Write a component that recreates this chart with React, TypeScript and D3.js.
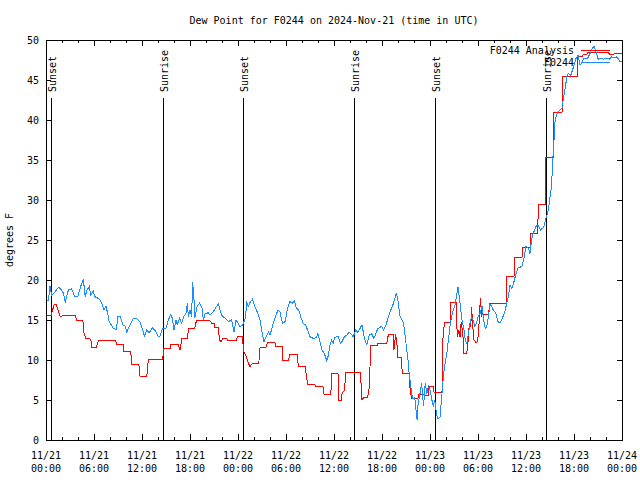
import React from 'react';
import * as d3 from 'd3';

const chartTitle = 'Dew Point for F0244 on 2024-Nov-21 (time in UTC)';
const yAxisLabel = 'degrees F';
const seriesNames = ['F0244 Analysis', 'F0244'];
const seriesColors = ['#ff0000', '#1a8cff'];

const xTickDates = ['11/21', '11/21', '11/21', '11/21', '11/22', '11/22', '11/22', '11/22', '11/23', '11/23', '11/23', '11/23', '11/24'];
const xTickTimes = ['00:00', '06:00', '12:00', '18:00', '00:00', '06:00', '12:00', '18:00', '00:00', '06:00', '12:00', '18:00', '00:00'];
const yTicks = [0, 5, 10, 15, 20, 25, 30, 35, 40, 45, 50];

const sunHours = [0.66, 14.66, 24.66, 38.54, 48.64, 62.54];
const sunLabels = ['Sunset', 'Sunrise', 'Sunset', 'Sunrise', 'Sunset', 'Sunrise'];

// [hours since 11/21 00:00 UTC, dew point F]
const analysisSeries: [number, number][] = [
  [0, 15.6], [0.65, 15.6], [1.0, 16.9], [1.3, 16.9], [1.75, 15.5], [2.0, 15.5], [2.1, 15.6], [3.7, 15.6], [3.8, 15.0], [4.6, 15.0],
  [4.75, 13.4], [5.0, 12.7], [5.6, 12.6], [5.7, 11.6], [6.3, 11.6], [6.6, 12.5], [8.7, 12.5], [8.8, 12.0], [9.7, 12.0], [9.75, 11.1],
  [10.6, 11.1], [10.7, 9.5], [11.6, 9.5], [11.75, 8.0], [12.6, 8.0], [12.8, 10.1], [14.6, 10.1], [14.7, 11.4], [15.5, 11.4], [15.6, 12.0],
  [16.5, 12.0], [16.75, 11.3], [17.0, 12.7], [17.7, 12.7], [17.8, 14.0], [18.6, 14.0], [18.8, 14.9], [20.5, 14.9], [20.7, 14.6], [21.0, 14.6],
  [21.1, 14.1], [21.5, 14.1], [21.7, 12.5], [21.9, 12.3], [22.1, 12.7], [22.6, 12.7], [22.75, 12.4], [23.8, 12.4], [23.9, 12.9], [24.6, 12.9],
  [24.65, 11.2], [25.0, 10.5], [25.3, 9.6], [25.5, 9.2], [25.8, 9.6], [26.6, 9.6], [26.75, 11.5], [27.5, 11.6], [27.7, 12.2], [28.6, 12.2],
  [28.75, 11.7], [29.5, 11.7], [29.6, 10.0], [30.3, 10.0], [30.5, 10.7], [31.4, 10.7], [31.55, 9.2], [32.4, 9.2], [32.7, 6.9], [33.6, 6.9],
  [33.7, 6.75], [34.6, 6.75], [34.75, 5.75], [35.6, 5.75], [35.75, 8.3], [36.5, 8.3], [36.6, 5.0], [36.9, 5.0], [37.0, 5.8], [37.3, 6.2],
  [37.5, 8.5], [38.4, 8.5], [38.5, 8.4], [39.3, 8.4], [39.5, 5.0], [39.7, 5.3], [40.2, 5.3], [40.4, 6.5], [40.6, 11.8], [41.4, 11.8],
  [41.5, 12.1], [42.6, 12.1], [42.8, 13.2], [43.4, 13.2], [43.5, 11.3], [43.7, 13.2], [43.9, 11.7], [44.0, 10.3], [44.4, 10.3], [44.55, 8.3],
  [45.4, 8.3], [45.5, 6.5], [45.7, 5.2], [46.5, 5.2], [46.6, 5.75], [47.2, 5.75], [47.25, 5.6], [47.8, 5.6], [47.9, 6.7], [48.4, 6.7],
  [48.5, 6.0], [49.5, 6.0], [49.6, 12.5], [49.8, 14.7], [50.5, 14.7], [50.6, 17.2], [51.3, 17.2], [51.4, 12.9], [51.6, 13.7], [51.75, 12.9],
  [51.9, 14.8], [52.1, 13.3], [52.25, 10.8], [52.5, 10.8], [52.7, 11.3], [52.85, 14.0], [53.1, 14.2], [53.2, 16.6], [53.35, 14.2], [53.5, 12.5],
  [53.75, 12.2], [53.95, 12.3], [54.1, 14.0], [54.3, 17.8], [54.45, 15.5], [54.6, 15.75], [55.3, 15.75], [55.5, 17.1], [57.5, 17.1], [57.6, 20.5],
  [58.5, 20.5], [58.6, 22.8], [59.5, 22.8], [59.6, 24.1], [60.5, 24.1], [60.6, 25.8], [61.4, 25.8], [61.6, 29.4], [62.4, 29.4], [62.5, 35.3],
  [63.4, 35.3], [63.5, 41.0], [64.5, 41.0], [64.6, 45.5], [66.4, 45.5], [66.5, 47.9], [67.0, 47.9], [67.2, 48.25], [67.6, 48.25], [67.8, 48.5],
  [70.3, 48.5], [70.4, 48.25], [71.0, 48.25], [71.2, 48.3], [72, 48.3],
];

const observedSeries: [number, number][] = [
  [0, 17.5], [0.3, 17.5], [0.5, 19.2], [0.7, 18.1], [1.1, 18.5], [1.55, 19.1], [1.95, 18.75], [2.2, 18.3], [2.4, 17.2], [2.8, 18.75],
  [3.2, 18.9], [3.6, 17.9], [4.0, 18.0], [4.3, 19.1], [4.67, 20.1], [4.9, 17.9], [5.1, 18.7], [5.4, 19.2], [5.6, 18.1], [5.9, 18.7],
  [6.1, 17.9], [6.4, 17.8], [6.75, 17.5], [6.95, 17.1], [7.25, 16.25], [7.5, 16.7], [7.7, 15.9], [7.9, 14.8], [8.4, 14.0], [8.8, 13.8],
  [9.0, 15.5], [9.3, 15.4], [9.6, 14.4], [9.9, 14.25], [10.1, 13.5], [10.5, 14.4], [10.9, 15.2], [11.3, 15.2], [11.75, 14.8], [12.1, 13.75],
  [12.3, 13.0], [12.6, 13.75], [12.9, 13.4], [13.3, 14.0], [13.6, 13.75], [14.0, 13.0], [14.25, 13.0], [14.6, 14.0], [15.0, 14.0], [15.3, 15.0],
  [15.6, 15.7], [15.8, 15.2], [16.0, 13.75], [16.25, 15.0], [16.4, 14.4], [16.7, 15.2], [16.95, 14.6], [17.2, 15.4], [17.5, 15.8], [17.67, 17.1],
  [17.8, 15.4], [18.0, 16.25], [18.2, 15.4], [18.33, 19.7], [18.5, 17.5], [18.6, 15.2], [18.9, 16.7], [19.2, 17.1], [19.5, 16.5], [19.67, 15.0],
  [19.9, 15.8], [20.3, 15.9], [20.5, 15.6], [20.9, 16.0], [21.25, 16.6], [21.55, 17.0], [21.75, 16.25], [21.95, 15.6], [22.4, 15.2], [22.8, 14.8],
  [23.2, 15.0], [23.5, 13.5], [23.75, 15.0], [24.0, 14.6], [24.25, 14.2], [24.6, 14.4], [24.9, 15.2], [25.1, 17.1], [25.3, 16.7], [25.5, 17.2],
  [25.8, 17.6], [26.1, 16.7], [26.4, 16.0], [26.75, 15.0], [26.95, 13.75], [27.25, 12.3], [27.5, 12.9], [27.8, 13.5], [28.0, 13.1], [28.3, 14.2],
  [28.6, 15.2], [29.0, 16.25], [29.25, 16.0], [29.55, 14.6], [29.9, 14.8], [30.2, 16.5], [30.5, 17.3], [30.8, 17.1], [31.05, 17.4], [31.3, 16.5],
  [31.6, 16.25], [31.9, 15.2], [32.2, 14.5], [32.45, 14.4], [32.7, 13.75], [33.0, 12.9], [33.4, 12.7], [33.8, 12.8], [34.0, 13.3], [34.25, 12.3],
  [34.5, 11.25], [34.8, 10.8], [35.1, 9.9], [35.3, 10.6], [35.5, 11.9], [35.7, 12.5], [35.9, 12.1], [36.1, 12.8], [36.5, 13.0], [36.8, 12.1],
  [37.0, 12.3], [37.3, 12.9], [37.6, 13.1], [37.9, 13.5], [38.1, 13.3], [38.4, 12.9], [38.7, 13.75], [38.95, 13.5], [39.25, 13.95], [39.5, 14.4],
  [39.8, 12.7], [40.1, 11.9], [40.4, 13.1], [40.7, 13.3], [41.0, 12.7], [41.3, 13.5], [41.5, 13.95], [41.95, 14.2], [42.2, 13.75], [42.5, 14.4],
  [42.8, 15.4], [43.1, 16.25], [43.4, 17.0], [43.8, 18.4], [44.0, 17.4], [44.25, 15.5], [44.7, 14.6], [44.9, 12.9], [45.1, 11.25], [45.3, 9.6],
  [45.4, 8.2], [45.6, 6.7], [45.8, 5.2], [46.1, 5.3], [46.3, 3.3], [46.4, 2.5], [46.5, 4.4], [46.75, 5.8], [46.95, 7.1], [47.2, 4.2],
  [47.4, 7.1], [47.6, 5.8], [47.8, 6.7], [48.0, 6.25], [48.2, 5.2], [48.4, 4.2], [48.6, 5.0], [48.8, 3.3], [49.0, 2.6], [49.25, 2.9],
  [49.5, 5.8], [49.7, 8.3], [49.9, 9.6], [50.1, 10.8], [50.3, 12.5], [50.5, 14.2], [50.7, 15.4], [50.9, 16.25], [51.1, 16.7], [51.3, 17.9],
  [51.5, 19.1], [51.6, 18.3], [51.8, 16.7], [52.0, 15.0], [52.25, 13.75], [52.4, 12.5], [52.6, 12.1], [52.8, 13.3], [53.0, 14.6], [53.2, 15.4],
  [53.4, 15.0], [53.6, 14.2], [53.8, 14.6], [54.0, 15.4], [54.25, 15.8], [54.5, 16.7], [54.7, 15.0], [54.9, 13.95], [55.1, 14.2], [55.3, 15.4],
  [55.5, 17.0], [55.7, 16.7], [55.9, 16.25], [56.25, 15.8], [56.5, 14.8], [56.75, 14.6], [56.95, 15.0], [57.2, 15.6], [57.4, 16.25], [57.6, 17.1],
  [57.8, 17.9], [58.0, 19.4], [58.2, 18.96], [58.4, 19.4], [58.75, 20.8], [59.0, 21.5], [59.5, 21.7], [59.75, 22.7], [60.0, 24.2], [60.3, 23.95],
  [60.5, 23.3], [60.7, 25.1], [60.9, 25.8], [61.25, 26.7], [61.5, 26.9], [61.8, 26.25], [62.1, 26.5], [62.25, 26.7], [62.5, 27.7], [62.8, 28.75],
  [63.0, 30.4], [63.2, 31.7], [63.3, 34.2], [63.5, 37.5], [63.6, 39.6], [63.8, 40.6], [64.0, 41.0], [64.5, 41.5], [64.7, 42.9], [64.9, 43.95],
  [65.1, 45.4], [65.3, 45.8], [65.6, 45.6], [65.9, 46.5], [66.25, 47.7], [66.5, 48.1], [66.75, 46.9], [66.95, 47.1], [67.25, 47.7], [67.7, 47.7],
  [68.0, 48.3], [68.3, 48.96], [68.5, 49.2], [68.8, 48.4], [69.0, 47.6], [69.25, 47.7], [69.7, 47.6], [70.1, 47.7], [70.4, 47.6], [70.7, 47.9],
  [71.1, 47.8], [71.3, 47.9], [71.5, 47.7], [71.75, 47.3], [72, 47.3],
];

const W = 640;
const H = 480;
const L = 46;
const R = 622;
const T = 40;
const B = 440;
const FONT = '"DejaVu Sans Mono", "Liberation Mono", monospace';

export default function App() {
  const x = d3.scaleLinear().domain([0, 72]).range([L, R]);
  const y = d3.scaleLinear().domain([0, 50]).range([B, T]);
  const line = d3
    .line<[number, number]>()
    .x((d) => x(d[0]))
    .y((d) => y(d[1]));

  const majorX = d3.range(0, 73, 6);
  const minorX = d3.range(0, 73, 2).filter((h) => h % 6 !== 0);
  const majorLen = 6;
  const minorLen = 3;
  const yTickLen = 5;

  return (
    <svg
      width={W}
      height={H}
      viewBox={`0 0 ${W} ${H}`}
      style={{ position: 'absolute', left: 0, top: 0, background: '#fff', display: 'block' }}
      fontFamily={FONT}
      fontSize={10}
    >
      <rect x={0} y={0} width={W} height={H} fill="#fff" />
      <text x={(L + R) / 2} y={23.5} textAnchor="middle" fill="#000">
        {chartTitle}
      </text>
      <text transform={`translate(13,${(T + B) / 2}) rotate(-90)`} textAnchor="middle" fill="#000">
        {yAxisLabel}
      </text>

      <g shapeRendering="crispEdges" stroke="#000" strokeWidth={1}>
        {yTicks.map((v) => (
          <g key={'yt' + v}>
            <line x1={L} x2={L + yTickLen} y1={y(v)} y2={y(v)} />
            <line x1={R} x2={R - yTickLen} y1={y(v)} y2={y(v)} />
          </g>
        ))}
        {majorX.map((h) => (
          <g key={'xm' + h}>
            <line x1={x(h)} x2={x(h)} y1={B} y2={B - majorLen} />
            <line x1={x(h)} x2={x(h)} y1={T} y2={T + majorLen} />
          </g>
        ))}
        {minorX.map((h) => (
          <g key={'xn' + h}>
            <line x1={x(h)} x2={x(h)} y1={B} y2={B - minorLen} />
            <line x1={x(h)} x2={x(h)} y1={T} y2={T + minorLen} />
          </g>
        ))}
        {sunHours.map((h, i) => (
          <line key={'sl' + i} x1={x(h)} x2={x(h)} y1={B} y2={y(0.855 * 50)} />
        ))}
      </g>

      {yTicks.map((v) => (
        <text key={'yl' + v} x={L - 7} y={y(v) + 3.5} textAnchor="end" fill="#000">
          {v}
        </text>
      ))}
      {majorX.map((h, i) => (
        <g key={'xl' + h}>
          <text x={x(h)} y={459} textAnchor="middle" fill="#000">
            {xTickDates[i]}
          </text>
          <text x={x(h)} y={472} textAnchor="middle" fill="#000">
            {xTickTimes[i]}
          </text>
        </g>
      ))}

      {sunHours.map((h, i) => (
        <text key={'st' + i} transform={`translate(${x(h) + 5},92) rotate(-90)`} textAnchor="start" fill="#000">
          {sunLabels[i]}
        </text>
      ))}

      <path d={line(analysisSeries) || ''} fill="none" stroke={seriesColors[0]} strokeWidth={1} shapeRendering="crispEdges" />
      <path d={line(observedSeries) || ''} fill="none" stroke={seriesColors[1]} strokeWidth={1} shapeRendering="crispEdges" />

      {seriesNames.map((name, i) => (
        <g key={'lg' + i}>
          <text x={574} y={53.5 + i * 12.7} textAnchor="end" fill="#000">
            {name}
          </text>
          <line
            x1={581}
            x2={610}
            y1={50 + i * 12.5}
            y2={50 + i * 12.5}
            stroke={seriesColors[i]}
            strokeWidth={1}
            shapeRendering="crispEdges"
          />
        </g>
      ))}

      <rect x={L} y={T} width={R - L} height={B - T} fill="none" stroke="#000" strokeWidth={1} shapeRendering="crispEdges" />
    </svg>
  );
}
